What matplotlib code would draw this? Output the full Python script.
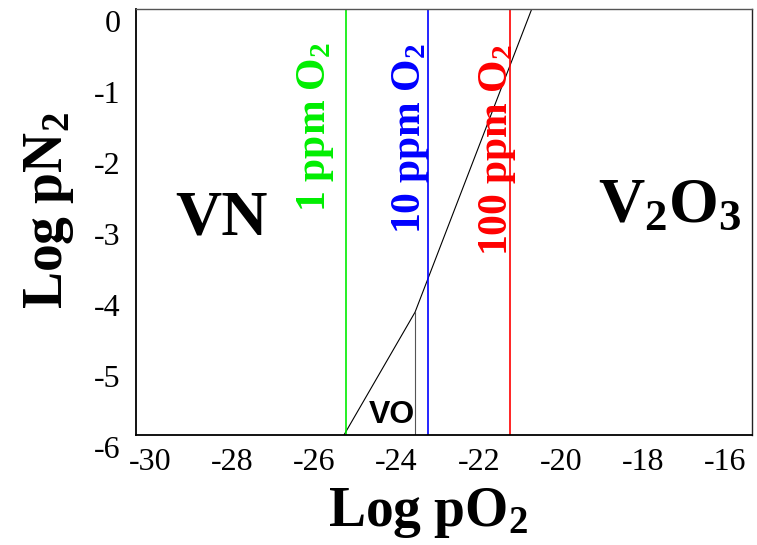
"""plot.py -- V-N-O predominance diagram (log pN2 vs log pO2)."""
import matplotlib
matplotlib.use("Agg")
import matplotlib.pyplot as plt
from matplotlib.transforms import ScaledTranslation

plt.rcParams["font.family"] = ["Liberation Serif", "DejaVu Serif"]
plt.rcParams["mathtext.fontset"] = "custom"
plt.rcParams["mathtext.rm"] = "Liberation Serif"
plt.rcParams["mathtext.bf"] = "Liberation Serif:bold"
plt.rcParams["mathtext.it"] = "Liberation Serif:italic"
plt.rcParams["axes.unicode_minus"] = False

# oxygen levels in the N2 gas, drawn as vertical lines
ppm_levels = ["1", "10", "100"]
ppm_logpo2 = [-25.24, -23.24, -21.24]
ppm_colors = ["#00ee00", "#0000ff", "#ff0000"]
ppm_label_x = [-25.98, -23.67, -21.55]
ppm_label_y = [-1.66, -1.82, -1.99]

# VN / VO / V2O3 boundary
boundary_x = [-25.28, -23.55, -20.71]
boundary_y = [-6.0, -4.27, 0.0]
vo_x = [-23.55, -23.55]
vo_y = [-4.27, -6.0]

xticks = [-30, -28, -26, -24, -22, -20, -18, -16]
yticks = [0, -1, -2, -3, -4, -5, -6]

fig = plt.figure(figsize=(7.57, 5.45), dpi=100)
ax = fig.add_axes([0.1797, 0.2018, 0.8137, 0.7817])
ax.set_xlim(-30.34, -15.35)
ax.set_ylim(-6, 0)

ax.plot(boundary_x, boundary_y, color="black", lw=0.8)
ax.plot(vo_x, vo_y, color="#555555", lw=0.8)
for lvl, x, c, lx, ly in zip(ppm_levels, ppm_logpo2, ppm_colors,
                             ppm_label_x, ppm_label_y):
    ax.axvline(x, color=c, lw=1.2)
    ax.text(lx, ly, r"$\mathbf{%s\ ppm\ O_2}$" % lvl, color=c,
            rotation=90, ha="center", va="center", fontsize=30)

ax.text(-28.27, -3.18, "VN", fontsize=46, fontweight="bold",
        ha="center", va="baseline")
ax.text(-17.34, -3.0, r"$\mathbf{V_2O_3}$", fontsize=46,
        ha="center", va="baseline")
ax.text(-24.12, -5.83, "VO", fontsize=23, fontweight="bold",
        family="Liberation Sans", ha="center", va="baseline")

ax.set_xticks(xticks)
ax.set_yticks(yticks)
ax.tick_params(length=0, labelsize=23)
ax.tick_params(axis="x", pad=9)
ax.tick_params(axis="y", pad=11)

ax.set_xlabel(r"$\mathbf{Log\ pO_2}$", fontsize=40)
ax.set_ylabel(r"$\mathbf{Log\ pN_2}$", fontsize=40)
ax.xaxis.set_label_coords(0.474, -0.12)
ax.yaxis.set_label_coords(-0.097, 0.526)

for side in ("left", "bottom"):
    ax.spines[side].set_color("black")
    ax.spines[side].set_linewidth(1.3)
ax.spines["top"].set_color("#555555")
ax.spines["top"].set_linewidth(1.0)
ax.spines["right"].set_color("#222222")
ax.spines["right"].set_linewidth(1.0)

# y labels in the original sit a bit below their values
shift = ScaledTranslation(0, -0.12, fig.dpi_scale_trans)
for t in ax.yaxis.get_major_ticks():
    t.label1.set_transform(t.label1.get_transform() + shift)

fig.savefig("out.png", dpi=100)
